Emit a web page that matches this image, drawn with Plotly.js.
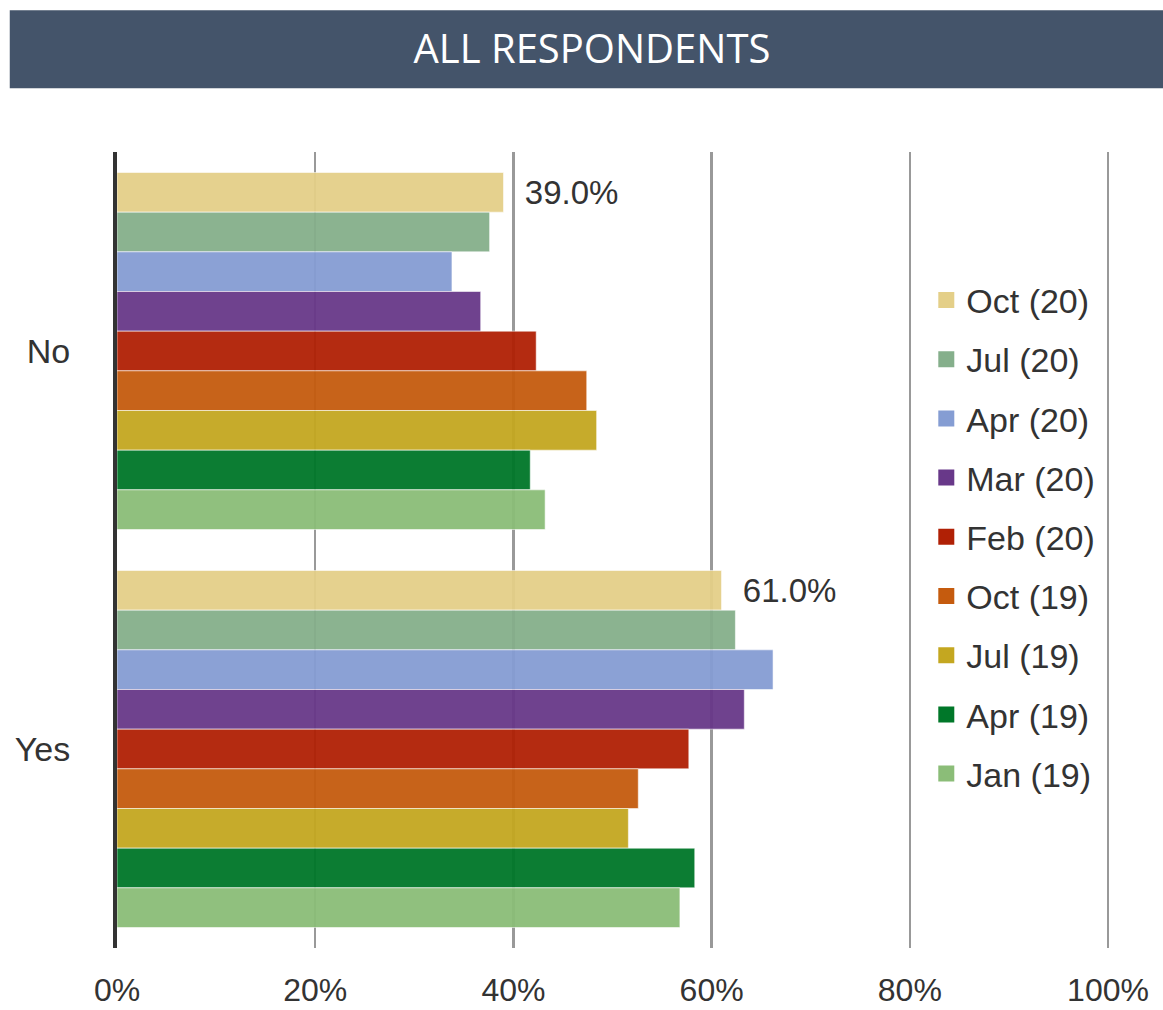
<!DOCTYPE html>
<html>
<head>
<meta charset="utf-8">
<script src="https://cdn.plot.ly/plotly-3.0.1.min.js"></script>
<style>html,body{margin:0;padding:0;background:#fff;}#chart{width:1163px;height:1010px;}</style>
</head>
<body>
<div id="chart"></div>
<script>
// Categories (top to bottom)
const categories = ["No", "Yes"];
// Survey waves (legend order, top to bottom)
const waves = ["Oct (20)", "Jul (20)", "Apr (20)", "Mar (20)", "Feb (20)", "Oct (19)", "Jul (19)", "Apr (19)", "Jan (19)"];
// Percent values per wave: [No, Yes]
const oct20 = [39.0, 61.0];
const jul20 = [37.6, 62.4];
const apr20 = [33.8, 66.2];
const mar20 = [36.7, 63.3];
const feb20 = [42.3, 57.7];
const oct19 = [47.4, 52.6];
const jul19 = [48.4, 51.6];
const apr19 = [41.7, 58.3];
const jan19 = [43.2, 56.8];
const seriesValues = [oct20, jul20, apr20, mar20, feb20, oct19, jul19, apr19, jan19];
const xTickVals = [0, 20, 40, 60, 80, 100];
const xTickText = ["0%", "20%", "40%", "60%", "80%", "100%"];
const chartTitle = "ALL RESPONDENTS";

const colors = ["#E4CF88", "#85AF8B", "#859DD3", "#683889", "#B02005", "#C55B0E", "#C4A720", "#007729", "#8BBD78"];
const FONT = "Liberation Sans, Arial, sans-serif";

const traces = [];
waves.forEach((w, i) => {
  const t = {
    type: "bar",
    orientation: "h",
    name: w,
    legendgroup: "g" + i,
    showlegend: false,
    y: categories,
    x: seriesValues[i],
    marker: { color: colors[i], opacity: 0.95, line: { color: "rgba(255,255,255,0.55)", width: 1 } },
    hoverinfo: "x+name",
    cliponaxis: false
  };
  if (i === 0) {
    t.texttemplate = "\u00A0\u00A0%{x:.1f}%";
    t.textposition = "outside";
    t.constraintext = "none";
    t.textfont = { family: FONT, size: 33, color: "#333333" };
  } else {
    t.textposition = "none";
  }
  traces.push(t);
});
// legend entries (square swatches) paired with each bar series
waves.forEach((w, i) => {
  traces.push({
    type: "scatter",
    mode: "markers",
    name: w,
    legendgroup: "g" + i,
    x: [null],
    y: [null],
    marker: { symbol: "square", size: 18, color: colors[i] },
    hoverinfo: "skip"
  });
});

const layout = {
  width: 1163,
  height: 1010,
  paper_bgcolor: "#ffffff",
  plot_bgcolor: "#ffffff",
  margin: { l: 117, r: 53, t: 152, b: 62, pad: 0 },
  barmode: "group",
  bargap: 0.103,
  bargroupgap: 0,
  font: { family: FONT, color: "#333333", size: 34 },
  title: {
    text: chartTitle,
    x: 0.509,
    xref: "container",
    xanchor: "center",
    y: 1 - 49 / 1010,
    yref: "container",
    yanchor: "middle",
    font: { family: "Open Sans, sans-serif", size: 40, color: "#ffffff" }
  },
  shapes: [{
    type: "rect",
    xref: "paper", yref: "paper",
    x0: -0.108, x1: 1.06, y0: 1.080, y1: 1.178,
    fillcolor: "#44546A",
    line: { width: 0 },
    layer: "below"
  }],
  xaxis: {
    range: [0, 100.2],
    tickvals: xTickVals,
    ticktext: xTickText,
    showgrid: true,
    gridcolor: "#999999",
    gridwidth: 2.5,
    zeroline: false,
    showline: false,
    ticks: "outside",
    ticklen: 14,
    tickcolor: "rgba(0,0,0,0)",
    tickfont: { family: FONT, size: 32, color: "#333333" },
    fixedrange: true
  },
  yaxis: {
    type: "category",
    categoryorder: "array",
    categoryarray: categories,
    autorange: "reversed",
    showgrid: false,
    showline: true,
    linecolor: "#333333",
    linewidth: 4,
    ticks: "outside",
    ticklen: 36,
    tickcolor: "rgba(0,0,0,0)",
    tickfont: { family: FONT, size: 34, color: "#333333" },
    fixedrange: true
  },
  legend: {
    x: 0.815,
    xanchor: "left",
    y: 0.85,
    yanchor: "top",
    traceorder: "grouped",
    tracegroupgap: 12,
    itemsizing: "trace",
    bgcolor: "rgba(0,0,0,0)",
    borderwidth: 0,
    font: { family: FONT, size: 34, color: "#333333" }
  },
  showlegend: true
};

Plotly.newPlot("chart", traces, layout, { displayModeBar: false, staticPlot: true });
</script>
</body>
</html>
